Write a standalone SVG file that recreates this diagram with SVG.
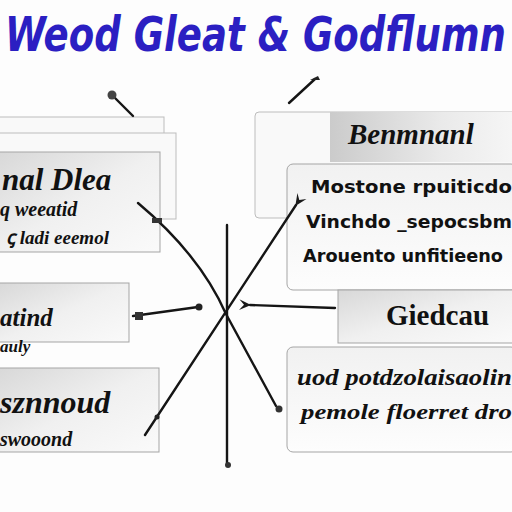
<svg xmlns="http://www.w3.org/2000/svg" width="512" height="512" viewBox="0 0 512 512">
<defs>
<linearGradient id="gBox" x1="0" y1="0" x2="1" y2="1">
<stop offset="0" stop-color="#d8d8d8"/><stop offset="0.5" stop-color="#f0f0f0"/><stop offset="1" stop-color="#fafafa"/>
</linearGradient>
<linearGradient id="gHead" x1="0" y1="0" x2="1" y2="0">
<stop offset="0" stop-color="#cbcbcb"/><stop offset="0.6" stop-color="#eaeaea"/><stop offset="1" stop-color="#f6f6f6"/>
</linearGradient>
<linearGradient id="gFront" x1="0" y1="0" x2="0" y2="1">
<stop offset="0" stop-color="#f1f1f1"/><stop offset="1" stop-color="#fdfdfd"/>
</linearGradient>
<marker id="arr" viewBox="0 0 10 10" refX="1" refY="5" markerWidth="5" markerHeight="5" orient="auto-start-reverse">
<path d="M10,0.5 L0,5 L10,9.5 L6,5 Z" fill="#1a1a1a"/>
</marker>
</defs>
<style>
.frame{fill:#f9f9f9;stroke:#bdbdbd;stroke-width:1}
.box{fill:url(#gBox);stroke:#a5a5a5;stroke-width:1}
.front{fill:url(#gFront);stroke:#a5a5a5;stroke-width:1}
.lt{font-family:"Liberation Serif",serif;font-style:italic;fill:#111}
.rt{font-family:"DejaVu Sans",sans-serif;fill:#111}
.ln{fill:none;stroke:#151515;stroke-width:2.4;stroke-linecap:round}
</style>
<rect width="512" height="512" fill="#fdfdfd"/>
<text transform="translate(5,51) scale(1.06,1.35)" x="0" y="0" font-family="DejaVu Sans, sans-serif" font-style="italic" font-weight="bold" font-size="35" fill="#2b1fc2">Weod Gleat &amp; Godflumn</text>

<g id="node-left-top">
<rect class="frame" x="-2" y="117" width="166" height="18"/>
<rect class="frame" x="-2" y="133" width="178" height="86"/>
<rect class="box" x="-2" y="152" width="162" height="100"/>
<text class="lt" x="2" y="190" font-size="31" font-weight="bold">nal Dlea</text>
<text class="lt" x="0" y="216" font-size="20" font-weight="bold">q weeatid</text>
<text class="lt" x="6" y="244" font-size="19" font-weight="bold">ꞔ ladi eeemol</text>
</g>

<g id="node-left-mid">
<rect class="box" x="-2" y="283" width="131" height="59"/>
<text class="lt" x="0" y="326" font-size="25" font-weight="bold">atind</text>
<text class="lt" x="0" y="352" font-size="17" font-weight="bold">auly</text>
</g>

<g id="node-left-bot">
<rect class="box" x="-2" y="368" width="161" height="84"/>
<text class="lt" x="0" y="413" font-size="32" font-weight="bold">sznnoud</text>
<text class="lt" x="0" y="446" font-size="20" font-weight="bold">swooond</text>
</g>

<g id="node-right-top">
<rect class="frame" x="255" y="112" width="262" height="106" rx="4"/>
<rect x="330" y="112" width="187" height="50" fill="url(#gHead)"/>
<text class="lt" x="348" y="144" font-size="29" font-weight="bold">Benmnanl</text>
</g>

<g id="node-right-front">
<rect class="front" x="287" y="164" width="230" height="126" rx="6"/>
<text class="rt" x="311" y="193" font-size="18" font-weight="bold" textLength="201" lengthAdjust="spacingAndGlyphs">Mostone rpuiticdo</text>
<text class="rt" x="306" y="228" font-size="18" font-weight="bold" textLength="206" lengthAdjust="spacingAndGlyphs">Vinchdo _sepocsbm</text>
<text class="rt" x="303" y="262" font-size="17" font-weight="bold" textLength="200" lengthAdjust="spacingAndGlyphs">Arouento  unfitieeno</text>
</g>

<g id="node-right-mid">
<rect class="box" x="338" y="290" width="179" height="53"/>
<text x="386" y="325" font-family="Liberation Serif, serif" font-size="29" font-weight="bold" fill="#111">Giedcau</text>
</g>

<g id="node-right-bot">
<rect class="front" x="287" y="347" width="230" height="105" rx="6"/>
<text class="lt" x="297" y="385" font-size="24" font-weight="bold" textLength="215" lengthAdjust="spacingAndGlyphs">uod potdzolaisaolin</text>
<text class="lt" x="301" y="419" font-size="22" font-weight="bold" textLength="211" lengthAdjust="spacingAndGlyphs">pemole floerret dro</text>
</g>

<g id="connectors">
<line class="ln" x1="227" y1="225" x2="227" y2="463"/>
<path class="ln" d="M138,203 Q200,255 226,314 L276,406"/>
<path class="ln" d="M296,205 L145,435" marker-start="url(#arr)"/>
<path class="ln" d="M133,316 L198,307"/>
<circle cx="199" cy="307" r="3.5" fill="#222"/>
<rect x="135" y="312" width="8" height="8" fill="#333"/>
<path class="ln" d="M335,308 L250,305" marker-end="url(#arr)"/>
<path class="ln" d="M133,116 L114,97"/>
<circle cx="112" cy="95" r="4.5" fill="#444"/>
<path class="ln" d="M289,103 L315,79"/>
<path d="M310,80 l8,-4 l2,4 z" fill="#222"/>
<circle cx="157" cy="417" r="2.5" fill="#222"/>
<circle cx="279" cy="409" r="3.5" fill="#333"/>
<circle cx="228" cy="465" r="3" fill="#333"/>
<rect x="152" y="218" width="10" height="5" fill="#333"/>
</g>
</svg>
